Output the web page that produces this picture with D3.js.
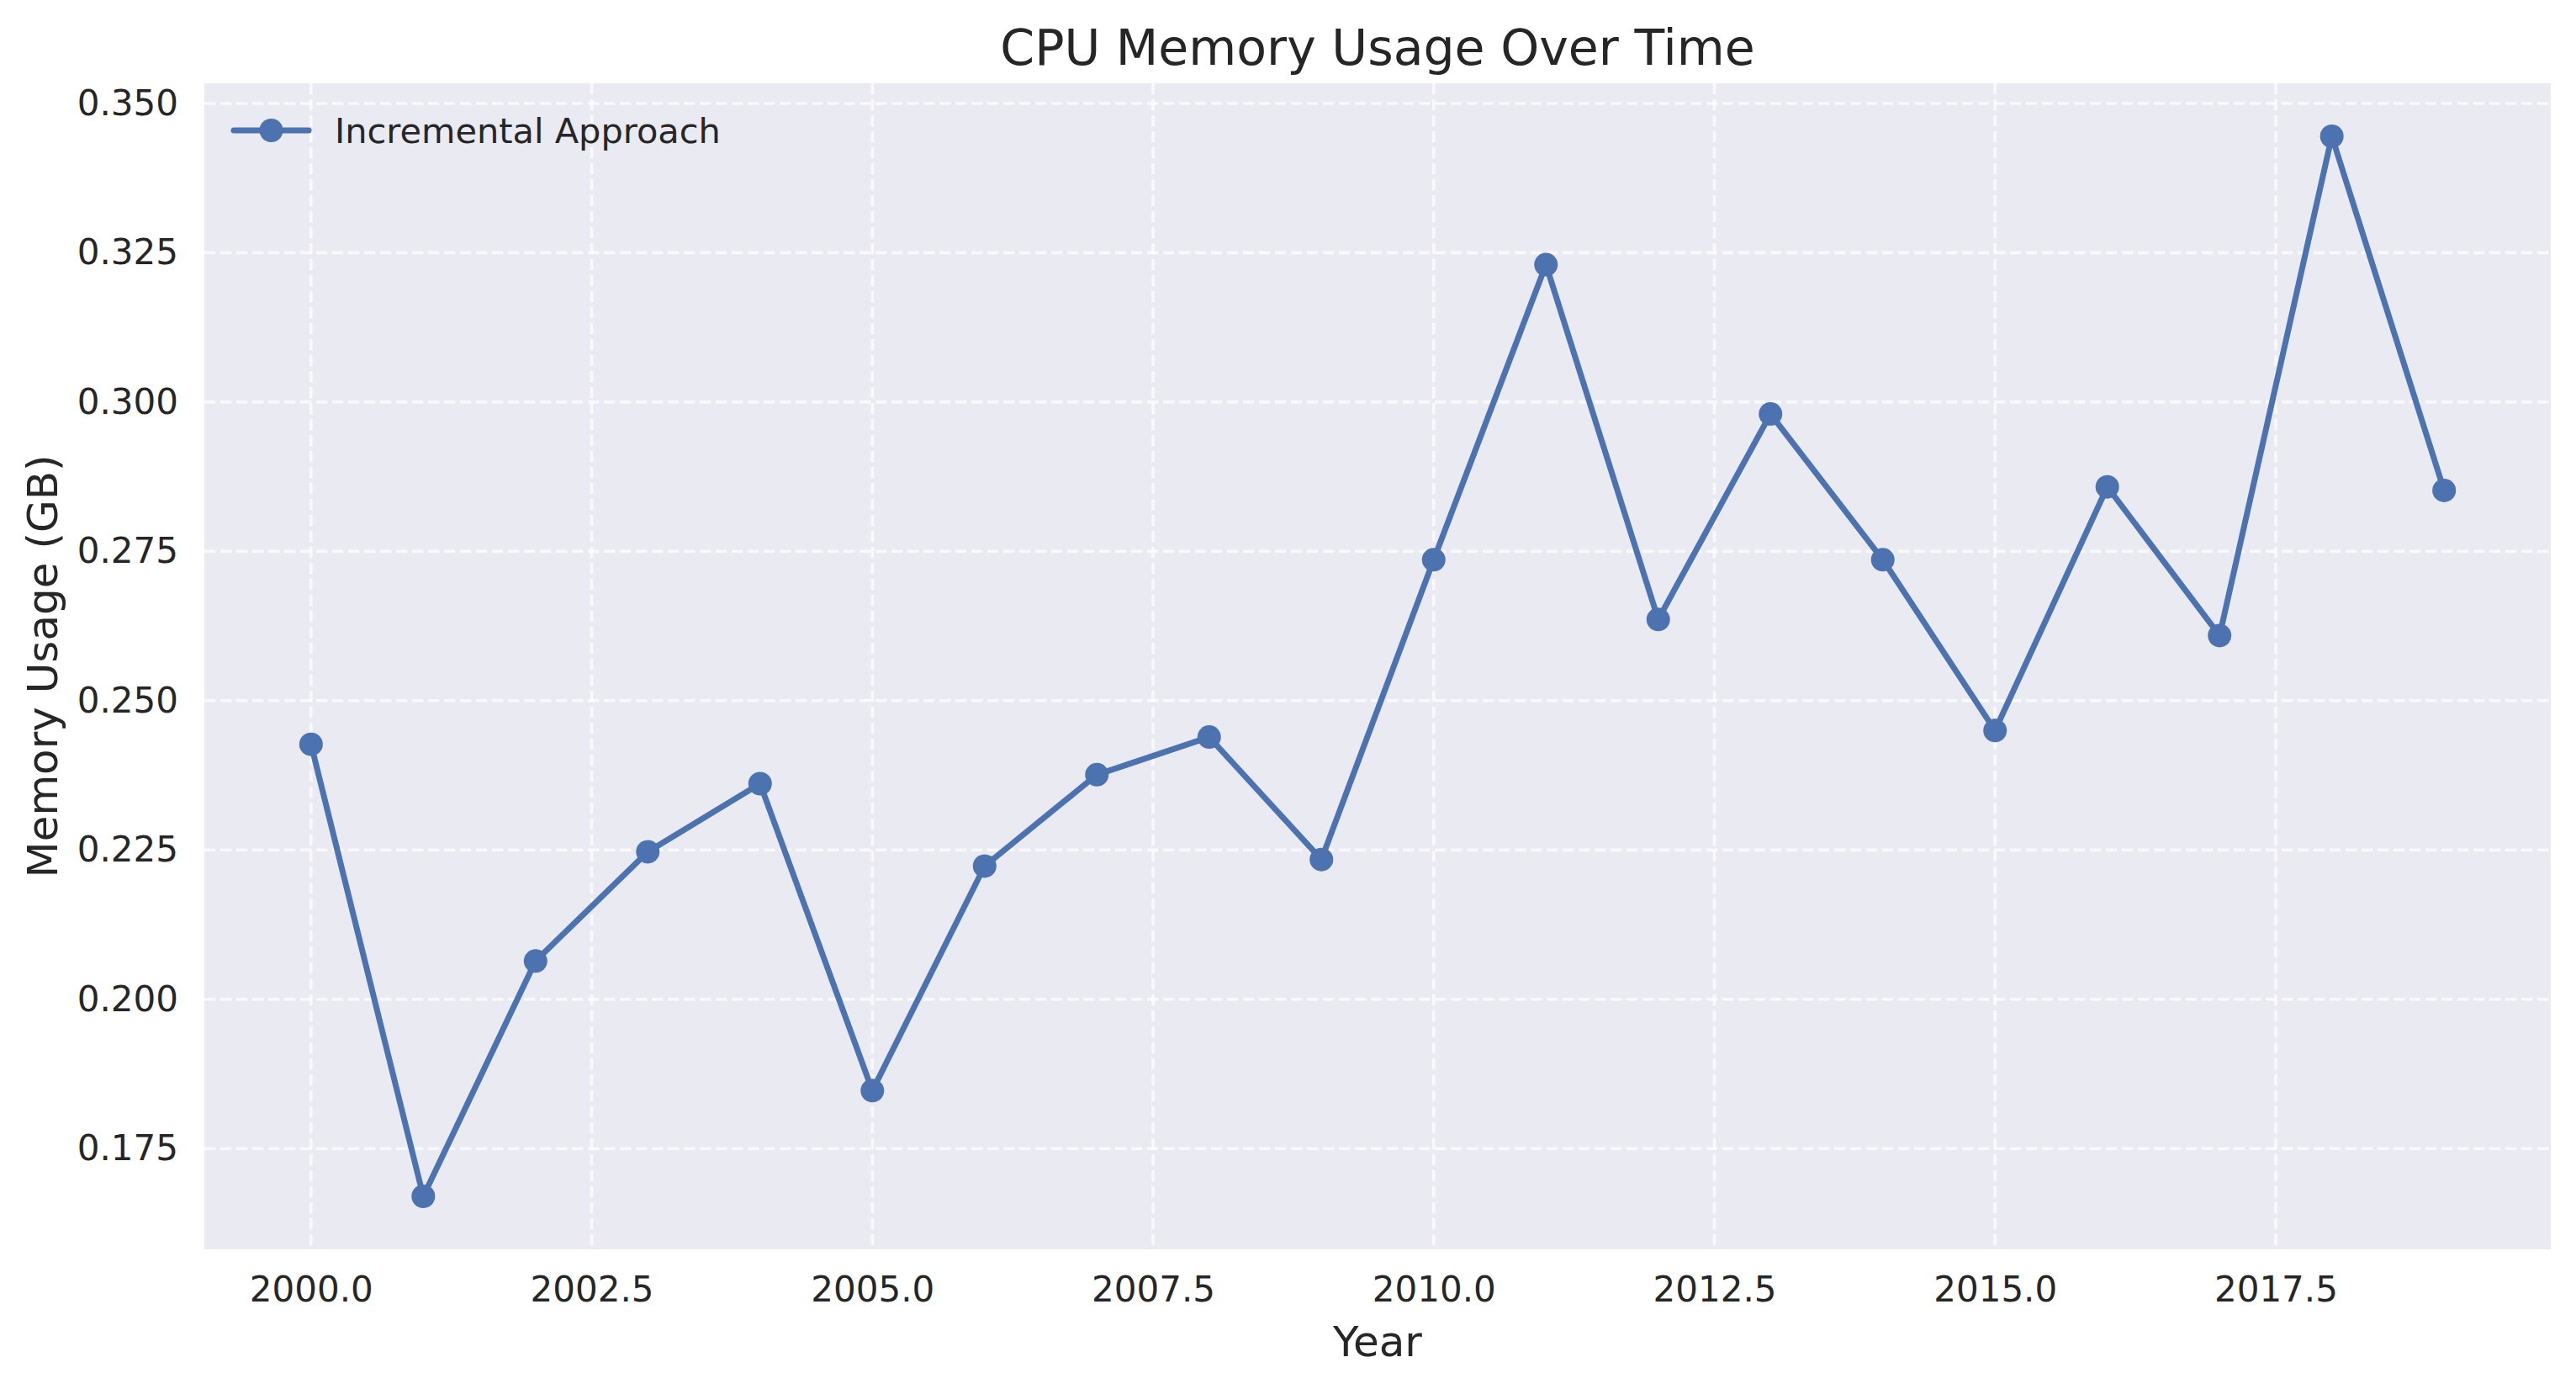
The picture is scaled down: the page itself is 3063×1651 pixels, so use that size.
<!DOCTYPE html>
<html>
<head>
<meta charset="utf-8">
<script src="https://cdn.jsdelivr.net/npm/d3@7"></script>
<style>
    body { margin: 0; background: #fff; }
    text { font-family: "DejaVu Sans", sans-serif; fill: #262626; }
</style>
</head>
<body>
<script>
var years = [2000, 2001, 2002, 2003, 2004, 2005, 2006, 2007, 2008, 2009,
    2010, 2011, 2012, 2013, 2014, 2015, 2016, 2017, 2018, 2019]
var memory = [0.2427, 0.1670, 0.2064, 0.2247, 0.2361, 0.1847, 0.2223, 0.2376, 0.2439, 0.2234,
    0.2736, 0.3230, 0.2636, 0.2980, 0.2736, 0.2450, 0.2858, 0.2609, 0.3445, 0.2852]
var xTicks = [2000, 2002.5, 2005, 2007.5, 2010, 2012.5, 2015, 2017.5]
var yTicks = [0.175, 0.200, 0.225, 0.250, 0.275, 0.300, 0.325, 0.350]
var seriesName = 'Incremental Approach'

var W = 3063, H = 1651
var m = { left: 243, right: W - 3033, top: 99, bottom: H - 1485 }
var color = '#4c72b0'

var svg = d3.select('body').append('svg')
    .attr('width', W)
    .attr('height', H)

// matplotlib style 5% margins
var pad = function (lo, hi) {
    var d = (hi - lo) * 0.05
    return [lo - d, hi + d]
}

var x = d3.scaleLinear()
    .domain(pad(d3.min(years), d3.max(years)))
    .range([m.left, W - m.right])
var y = d3.scaleLinear()
    .domain(pad(d3.min(memory), d3.max(memory)))
    .range([H - m.bottom, m.top])

svg.append('rect')
    .attr('x', m.left)
    .attr('y', m.top)
    .attr('width', W - m.left - m.right)
    .attr('height', H - m.top - m.bottom)
    .attr('fill', '#eaeaf2')

// grid
var grid = svg.append('g')
    .attr('stroke', '#ffffff')
    .attr('stroke-opacity', 0.7)
    .attr('stroke-width', 3.6)
    .attr('stroke-dasharray', '13.3 5.7')
grid.selectAll('.gx').data(xTicks).enter().append('line')
    .attr('x1', function (d) { return x(d) })
    .attr('x2', function (d) { return x(d) })
    .attr('y1', m.top)
    .attr('y2', H - m.bottom)
grid.selectAll('.gy').data(yTicks).enter().append('line')
    .attr('x1', m.left)
    .attr('x2', W - m.right)
    .attr('y1', function (d) { return y(d) })
    .attr('y2', function (d) { return y(d) })

// axes (no ticks, no spines)
var xAxis = svg.append('g')
    .attr('transform', 'translate(0,' + (H - m.bottom) + ')')
    .call(d3.axisBottom(x).tickValues(xTicks).tickFormat(d3.format('.1f')).tickSize(0).tickPadding(32))
var yAxis = svg.append('g')
    .attr('transform', 'translate(' + m.left + ',0)')
    .call(d3.axisLeft(y).tickValues(yTicks).tickFormat(d3.format('.3f')).tickSize(0).tickPadding(31))
svg.selectAll('.domain').remove()
svg.selectAll('.tick text')
    .attr('font-size', 42)
    .attr('font-family', '"DejaVu Sans", sans-serif')
    .attr('fill', '#262626')

// line + markers
var line = d3.line()
    .x(function (d, i) { return x(years[i]) })
    .y(function (d) { return y(d) })
svg.append('path')
    .datum(memory)
    .attr('d', line)
    .attr('fill', 'none')
    .attr('stroke', color)
    .attr('stroke-width', 7)
    .attr('stroke-linejoin', 'round')
    .attr('stroke-linecap', 'round')
svg.selectAll('.dot').data(memory).enter().append('circle')
    .attr('cx', function (d, i) { return x(years[i]) })
    .attr('cy', function (d) { return y(d) })
    .attr('r', 14)
    .attr('fill', color)

// labels
svg.append('text')
    .text('CPU Memory Usage Over Time')
    .attr('x', (m.left + W - m.right) / 2)
    .attr('y', 77)
    .attr('text-anchor', 'middle')
    .attr('font-size', 58.5)
svg.append('text')
    .text('Year')
    .attr('x', (m.left + W - m.right) / 2)
    .attr('y', 1612)
    .attr('text-anchor', 'middle')
    .attr('font-size', 50)
svg.append('text')
    .text('Memory Usage (GB)')
    .attr('transform', 'translate(68,' + (m.top + H - m.bottom) / 2 + ') rotate(-90)')
    .attr('text-anchor', 'middle')
    .attr('font-size', 50)

// legend
var lg = svg.append('g').attr('transform', 'translate(278,155)')
lg.append('line')
    .attr('x1', 0).attr('x2', 89)
    .attr('stroke', color)
    .attr('stroke-width', 7)
    .attr('stroke-linecap', 'round')
lg.append('circle')
    .attr('cx', 44.5)
    .attr('r', 14)
    .attr('fill', color)
lg.append('text')
    .text(seriesName)
    .attr('x', 120)
    .attr('y', 15)
    .attr('font-size', 41.5)
</script>
</body>
</html>
